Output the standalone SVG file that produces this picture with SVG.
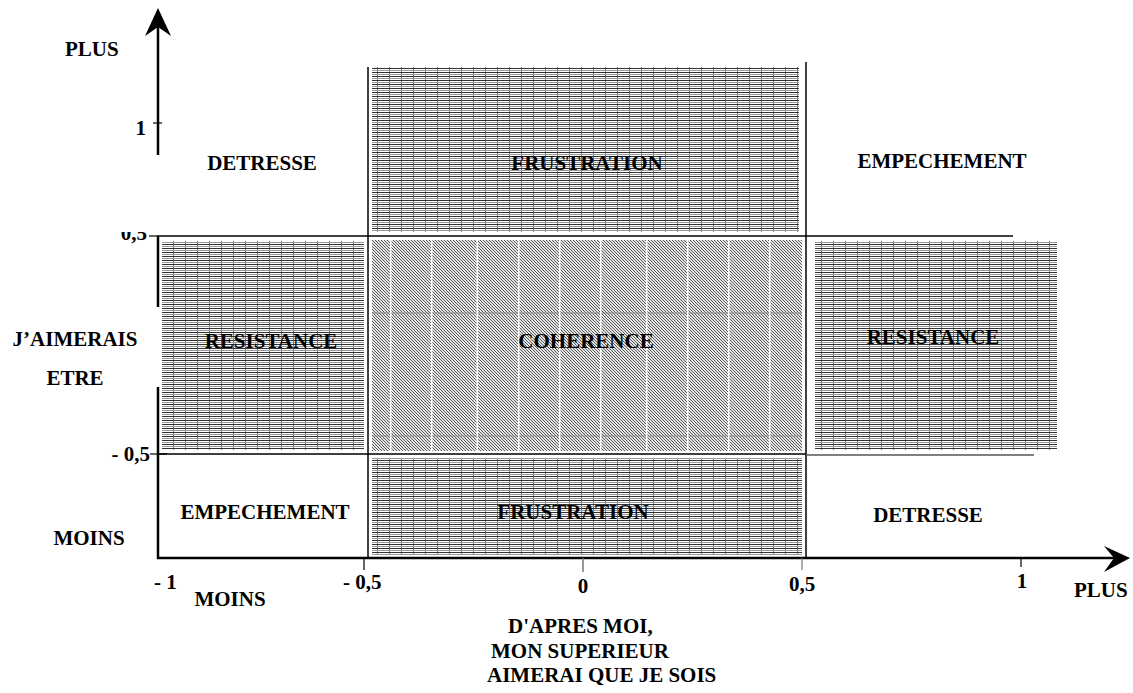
<svg xmlns="http://www.w3.org/2000/svg" width="1133" height="693" viewBox="0 0 1133 693">
<style>
text{font-family:"Liberation Serif","Times New Roman",serif;font-weight:bold;font-size:21px;fill:#000}
.m{text-anchor:middle}
.e{text-anchor:end}
.ax{stroke:#000;stroke-width:2.5;fill:none}
.ln{stroke:#000;stroke-width:1.5;fill:none}
.gl{stroke:#555;stroke-width:1.5;fill:none}
.tk{stroke:#000;stroke-width:1.2}
.hz{fill:url(#hlines)}
.dg{fill:url(#diag)}
</style>
<defs>
<pattern id="hlines" width="12" height="4" patternUnits="userSpaceOnUse">
<rect width="12" height="4" fill="#fff"/>
<rect y="0" width="12" height="1" fill="#333"/>
<rect y="2" width="12" height="1" fill="#9a9a9a"/>
<rect x="5" y="1" width="1" height="1" fill="#777"/>
<rect x="5" y="3" width="1" height="1" fill="#777"/>
</pattern>
<pattern id="diag" width="3" height="3" patternUnits="userSpaceOnUse">
<rect width="3" height="3" fill="#e4e4e4"/>
<rect x="0" y="0" width="1" height="1" fill="#5a5a5a"/>
<rect x="1" y="1" width="1" height="1" fill="#5a5a5a"/>
<rect x="2" y="2" width="1" height="1" fill="#5a5a5a"/>
</pattern>
<clipPath id="clip05"><rect x="100" y="232" width="60" height="20"/></clipPath>
</defs>

<g id="region-frustration-top">
<rect class="hz" x="372" y="67" width="427" height="165"/>
<text class="m" x="587" y="170">FRUSTRATION</text>
</g>
<g id="region-detresse-top">
<text class="m" x="262" y="170">DETRESSE</text>
</g>
<g id="region-empechement-top">
<text class="m" x="942" y="168">EMPECHEMENT</text>
</g>
<g id="region-resistance-left">
<rect class="hz" x="162" y="241" width="202" height="209"/>
<text class="m" x="271" y="348">RESISTANCE</text>
</g>
<g id="region-coherence">
<rect class="dg" x="372" y="240" width="430" height="211"/>
<g stroke="#888" stroke-width="1">
<line x1="372" y1="313" x2="802" y2="313"/>
<line x1="372" y1="436" x2="802" y2="436"/>
</g>
<g stroke="#fff" stroke-width="1.5">
<line x1="390.7" y1="240" x2="390.7" y2="451"/>
<line x1="431.7" y1="240" x2="431.7" y2="451"/>
<line x1="477.3" y1="240" x2="477.3" y2="451"/>
<line x1="518.7" y1="240" x2="518.7" y2="451"/>
<line x1="559.7" y1="240" x2="559.7" y2="451"/>
<line x1="600.7" y1="240" x2="600.7" y2="451"/>
<line x1="646.7" y1="240" x2="646.7" y2="451"/>
<line x1="687.7" y1="240" x2="687.7" y2="451"/>
<line x1="728.7" y1="240" x2="728.7" y2="451"/>
<line x1="769.7" y1="240" x2="769.7" y2="451"/>
</g>
<text class="m" x="586" y="348">COHERENCE</text>
</g>
<g id="region-resistance-right">
<rect class="hz" x="815" y="241" width="242" height="209"/>
<text class="m" x="933" y="344">RESISTANCE</text>
</g>
<g id="region-empechement-bottom">
<text class="m" x="265" y="519">EMPECHEMENT</text>
</g>
<g id="region-frustration-bottom">
<rect class="hz" x="372" y="458" width="430" height="97"/>
<text class="m" x="573" y="519">FRUSTRATION</text>
</g>
<g id="region-detresse-bottom">
<text class="m" x="928" y="522">DETRESSE</text>
</g>

<g id="connectors">
<line class="ln" x1="368" y1="67" x2="368" y2="558"/>
<line class="ln" x1="806" y1="62" x2="806" y2="558"/>
<line class="ln" x1="157" y1="236" x2="1013" y2="236"/>
<line class="ln" x1="157" y1="454" x2="806" y2="454"/>
<line class="gl" x1="806" y1="455" x2="1034" y2="455"/>
<line class="ax" x1="158" y1="25" x2="158" y2="155"/>
<polygon points="158,8 171,36 158,27 145,36" fill="#000"/>
<line class="ax" x1="158" y1="236" x2="158" y2="307"/>
<line class="ax" x1="158" y1="387" x2="158" y2="559"/>
<line class="ax" x1="157" y1="558" x2="1115" y2="558"/>
<polygon points="1130,558 1104,546 1114,558 1104,572" fill="#000"/>
<line class="tk" x1="153" y1="123" x2="162" y2="123"/>
<line class="tk" x1="149" y1="236" x2="158" y2="236"/>
<line class="tk" x1="150" y1="454" x2="167" y2="454"/>
<line class="tk" x1="364" y1="558" x2="364" y2="570"/>
<line stroke="#777" stroke-width="1.5" x1="583" y1="558" x2="583" y2="572"/>
<line stroke="#777" stroke-width="1.2" x1="802" y1="558" x2="802" y2="570"/>
<line class="tk" x1="1021" y1="558" x2="1021" y2="567"/>
</g>

<g id="axis-labels">
<text x="65" y="56">PLUS</text>
<text class="e" x="146" y="135">1</text>
<text class="e" x="147" y="240" clip-path="url(#clip05)">0,5</text>
<text class="m" x="75" y="346">J’AIMERAIS</text>
<text class="m" x="75" y="385">ETRE</text>
<text class="e" x="150" y="461">- 0,5</text>
<text class="m" x="89" y="545">MOINS</text>
<text x="154" y="589">- 1</text>
<text x="343" y="589">- 0,5</text>
<text class="m" x="583" y="593">0</text>
<text x="789" y="591">0,5</text>
<text class="m" x="1022" y="588">1</text>
<text x="1074" y="597">PLUS</text>
<text class="m" x="230" y="606">MOINS</text>
<text x="508" y="633">D'APRES MOI,</text>
<text x="491" y="658">MON SUPERIEUR</text>
<text x="487" y="682">AIMERAI QUE JE SOIS</text>
</g>
</svg>
